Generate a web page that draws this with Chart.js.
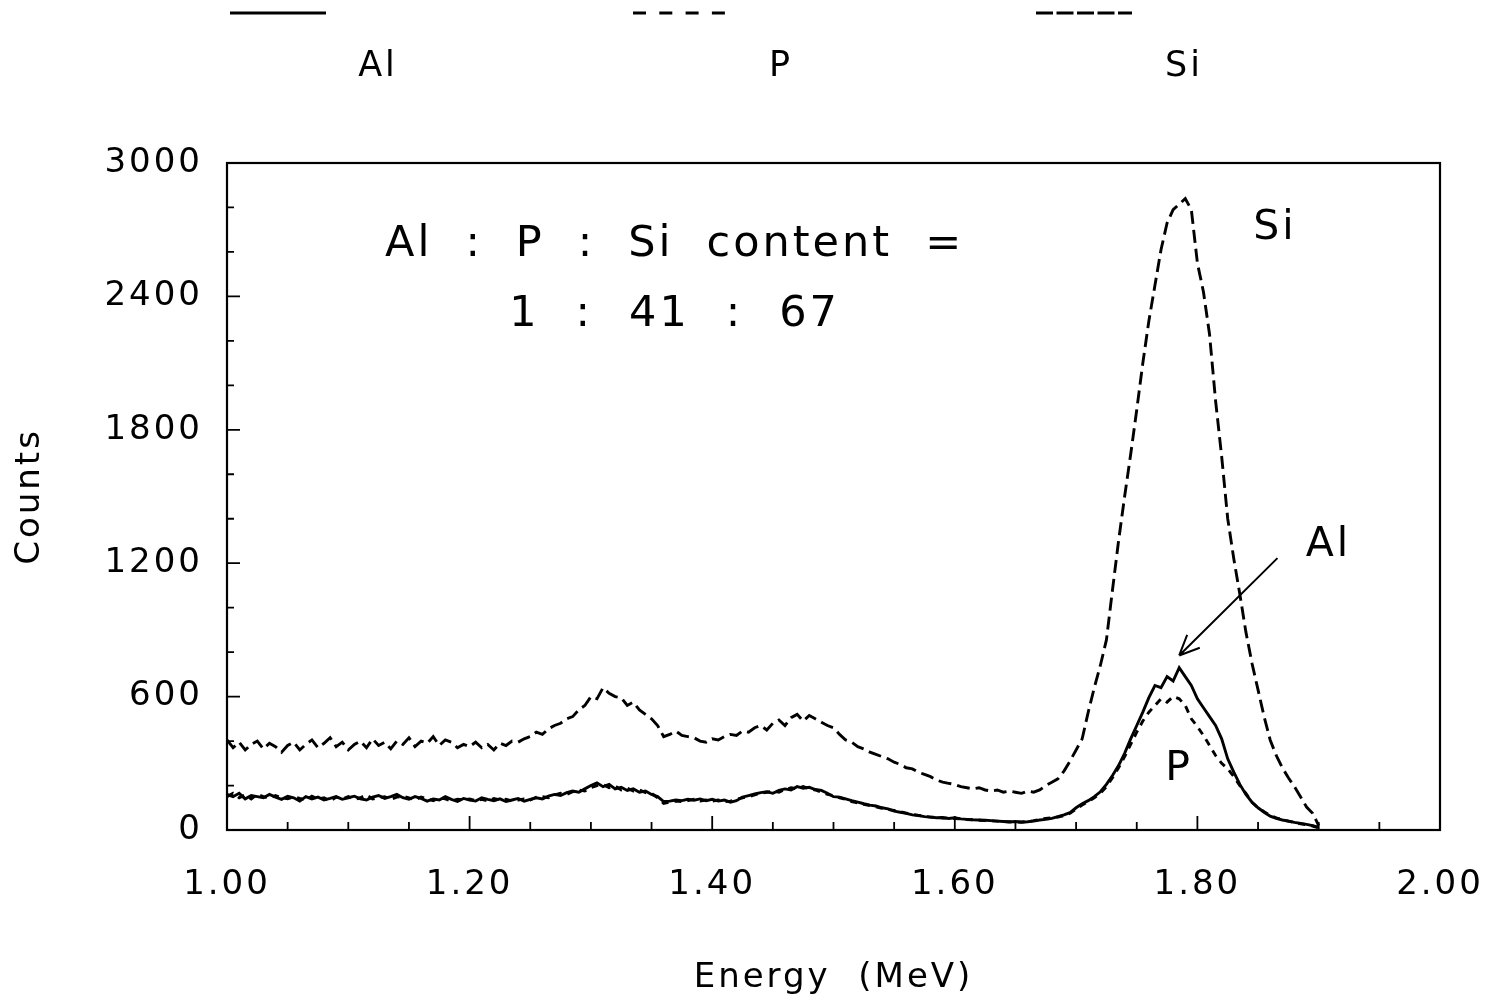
<!DOCTYPE html>
<html>
<head>
<meta charset="utf-8">
<script src="https://cdn.jsdelivr.net/npm/chart.js@4.4.1/dist/chart.umd.min.js"></script>
<style>
  html, body { margin: 0; padding: 0; background: #fff; }
</style>
</head>
<body>
<canvas id="spectrum" width="1489" height="1002"></canvas>
<script>
// channel calibration: first channel energy and channel width (MeV)
const E_START = 1.0;
const E_STEP = 0.005;

const seriesNames = ['Al', 'P', 'Si'];

// counts per channel (1.000 ... 1.900 MeV)
const alCounts = [
  160, 150, 165, 140, 155, 150, 145, 160, 148, 138,
  152, 145, 130, 150, 140, 148, 135, 142, 150, 138,
  145, 152, 140, 135, 148, 155, 142, 150, 160, 145,
  138, 150, 142, 130, 140, 135, 150, 138, 128, 142,
  135, 130, 145, 138, 132, 140, 128, 135, 142, 130,
  138, 145, 140, 152, 160, 155, 168, 175, 170, 185,
  200, 212, 195, 205, 185, 192, 178, 185, 170, 175,
  160, 150, 128, 130, 135, 132, 138, 134, 140, 132,
  138, 130, 135, 125, 132, 148, 155, 162, 168, 172,
  165, 178, 185, 180, 195, 188, 192, 182, 178, 165,
  150, 148, 140, 132, 125, 118, 112, 108, 100, 95,
  85, 80, 75, 68, 65, 60, 58, 55, 56, 52,
  55, 50, 48, 46, 45, 44, 42, 40, 38, 36,
  38, 35, 37, 40, 45, 48, 52, 60, 68, 78,
  100, 118, 132, 150, 172, 205, 245, 290, 345, 410,
  470, 530, 595, 650, 640, 690, 670, 730, 690, 650,
  590, 550, 510, 470, 410, 320, 260, 205, 160, 125,
  100, 80, 62, 52, 45, 40, 34, 30, 25, 20,
  12
];

const pCounts = [
  150, 165, 145, 158, 140, 160, 150, 142, 155, 145,
  140, 150, 142, 135, 152, 140, 145, 130, 148, 140,
  150, 138, 145, 158, 140, 145, 150, 138, 148, 152,
  145, 135, 148, 140, 132, 145, 140, 130, 138, 135,
  140, 132, 138, 130, 142, 135, 138, 130, 135, 140,
  135, 148, 150, 145, 158, 165, 160, 172, 180, 175,
  190, 200, 205, 190, 198, 180, 188, 175, 180, 168,
  165, 145, 120, 125, 130, 128, 132, 138, 130, 135,
  130, 135, 128, 130, 138, 145, 150, 158, 165, 170,
  175, 170, 182, 190, 185, 195, 185, 180, 170, 160,
  155, 145, 138, 128, 122, 115, 110, 104, 98, 92,
  88, 82, 76, 70, 66, 62, 58, 57, 54, 53,
  52, 50, 47, 46, 44, 42, 41, 40, 38, 37,
  36, 36, 38, 42, 48, 52, 55, 58, 65, 75,
  95, 112, 128, 145, 165, 195, 235, 280, 330, 385,
  440, 490, 530, 560, 590, 575, 600, 590, 560, 500,
  465, 425, 380, 335, 300, 275, 240, 200, 165, 125,
  100, 82, 66, 55, 46, 40, 34, 28, 24, 18,
  10
];

const siCounts = [
  405, 370, 395, 360, 385, 400, 365, 390, 375, 350,
  380, 395, 360, 385, 405, 370, 390, 415, 375, 395,
  360, 385, 400, 370, 410, 380, 395, 365, 400, 385,
  415, 375, 400, 390, 420, 380, 405, 395, 370, 385,
  375, 395, 370, 385, 360, 390, 380, 400, 395, 410,
  420, 440, 430, 455, 470, 480, 500, 510, 540, 560,
  600, 590, 640, 615, 600, 595, 560, 575, 540, 520,
  500, 470, 420, 430, 445, 425, 420, 415, 400, 395,
  410, 405, 420, 430, 425, 445, 440, 460, 470, 450,
  480, 495, 470, 505, 520, 490, 515, 500, 485, 470,
  460, 430, 405, 395, 375, 365, 350, 340, 330, 320,
  305, 295, 280, 275, 260, 250, 240, 225, 215, 210,
  205, 195, 190, 185, 190, 180, 175, 180, 170, 175,
  170, 165, 175, 170, 180, 200, 215, 230, 265, 310,
  360, 410, 530, 640, 740, 855, 1080, 1300, 1500, 1690,
  1890, 2100, 2290, 2450, 2610, 2730, 2790, 2815, 2840, 2790,
  2550, 2420, 2230, 1930, 1680, 1400, 1220, 1060, 890, 750,
  630, 510, 405, 335, 280, 235, 195, 150, 103, 75,
  20
];

const xTickStep = 0.2;
const yTickStep = 600;

// text placed in data coordinates [energy, counts]
const ratioLine1 = ['Al', ':', 'P', ':', 'Si', 'content', '='];
const ratioLine2 = ['1', ':', '41', ':', '67'];
const ratioAnchor1 = [1.369, 2630];
const ratioAnchor2 = [1.369, 2316];
const peakLabels = [
  { text: 'Si', at: [1.864, 2705] },
  { text: 'Al', at: [1.908, 1280] },
  { text: 'P', at: [1.785, 275] }
];
const arrowFrom = [1.866, 1223];
const arrowTo = [1.785, 785];

const FONT = "'DejaVu Sans', sans-serif";
const SPACING = '3px';

function toPoints(counts) {
  return counts.map((c, i) => ({ x: +(E_START + i * E_STEP).toFixed(3), y: c }));
}

const dashes = { Al: [], P: [7, 6], Si: [13, 6] };
const legendDashes = { Al: [], P: [13, 13.3], Si: [17, 3.5] };

const framePlugin = {
  id: 'frame',
  afterInit(chart) {
    chart.ctx.letterSpacing = SPACING;
  },
  beforeDraw(chart) {
    chart.ctx.letterSpacing = SPACING;
  },
  afterDatasetsDraw(chart) {
    const { ctx, chartArea: a, scales: { x, y } } = chart;
    ctx.save();
    ctx.strokeStyle = '#000';
    ctx.lineWidth = 2.2;
    ctx.strokeRect(a.left, a.top, a.right - a.left, a.bottom - a.top);

    // inward tick marks
    ctx.lineWidth = 1.8;
    ctx.beginPath();
    for (let i = 0; i <= 20; i++) {
      const px = x.getPixelForValue(1 + i * 0.05);
      const len = i % 4 === 0 ? 14 : 8;
      ctx.moveTo(px, a.bottom);
      ctx.lineTo(px, a.bottom - len);
    }
    for (let i = 0; i <= 15; i++) {
      const py = y.getPixelForValue(i * 200);
      const len = i % 3 === 0 ? 13 : 7;
      ctx.moveTo(a.left, py);
      ctx.lineTo(a.left + len, py);
    }
    ctx.stroke();

    // annotations
    ctx.fillStyle = '#000';
    ctx.textBaseline = 'middle';
    const drawTokens = (tokens, anchor, size, gap) => {
      ctx.font = size + 'px ' + FONT;
      const widths = tokens.map(t => ctx.measureText(t).width);
      const total = widths.reduce((s, w) => s + w, 0) + gap * (tokens.length - 1);
      let cx = x.getPixelForValue(anchor[0]) - total / 2;
      const cy = y.getPixelForValue(anchor[1]);
      ctx.textAlign = 'left';
      tokens.forEach((t, i) => { ctx.fillText(t, cx, cy); cx += widths[i] + gap; });
    };
    drawTokens(ratioLine1, ratioAnchor1, 43, 33);
    drawTokens(ratioLine2, ratioAnchor2, 43, 36);

    ctx.font = '41px ' + FONT;
    ctx.textAlign = 'center';
    peakLabels.forEach(l => {
      ctx.fillText(l.text, x.getPixelForValue(l.at[0]), y.getPixelForValue(l.at[1]));
    });

    // arrow to Al peak
    const x0 = x.getPixelForValue(arrowFrom[0]), y0 = y.getPixelForValue(arrowFrom[1]);
    const x1 = x.getPixelForValue(arrowTo[0]), y1 = y.getPixelForValue(arrowTo[1]);
    const ang = Math.atan2(y1 - y0, x1 - x0);
    ctx.lineWidth = 2;
    ctx.beginPath();
    ctx.moveTo(x0, y0);
    ctx.lineTo(x1, y1);
    for (const d of [0.42, -0.42]) {
      ctx.moveTo(x1, y1);
      ctx.lineTo(x1 - 22 * Math.cos(ang + d), y1 - 22 * Math.sin(ang + d));
    }
    ctx.stroke();
    ctx.restore();
  },
  afterDraw(chart) {
    // legend row across the top
    const { ctx } = chart;
    ctx.save();
    ctx.strokeStyle = '#000';
    ctx.fillStyle = '#000';
    ctx.lineWidth = 3;
    ctx.font = '35px ' + FONT;
    ctx.textAlign = 'center';
    ctx.textBaseline = 'middle';
    chart.data.datasets.forEach((ds, i) => {
      const x0 = 230 + i * 403;
      ctx.setLineDash(legendDashes[ds.label]);
      ctx.beginPath();
      ctx.moveTo(x0, 13);
      ctx.lineTo(x0 + 96, 13);
      ctx.stroke();
      ctx.setLineDash([]);
      ctx.fillText(ds.label, x0 + 148, 67);
    });
    ctx.restore();
  }
};

const datasets = [alCounts, pCounts, siCounts].map((counts, i) => ({
  label: seriesNames[i],
  data: toPoints(counts),
  borderColor: '#000',
  borderWidth: 2.9,
  borderDash: dashes[seriesNames[i]],
  pointRadius: 0,
  tension: 0,
  fill: false
}));

new Chart(document.getElementById('spectrum'), {
  type: 'line',
  data: { datasets },
  options: {
    responsive: false,
    animation: false,
    devicePixelRatio: 1,
    layout: { padding: { left: 0, top: 163, right: 49, bottom: 0 } },
    plugins: {
      legend: { display: false },
      tooltip: { enabled: false }
    },
    scales: {
      x: {
        type: 'linear',
        min: 1,
        max: 2,
        afterFit(s) { s.height = 172; s.paddingLeft = 0; s.paddingRight = 0; },
        grid: { display: false, drawTicks: false },
        border: { display: false },
        ticks: {
          stepSize: xTickStep,
          color: '#000',
          padding: 35,
          maxRotation: 0,
          font: { family: FONT, size: 34 },
          callback: v => v.toFixed(2)
        },
        title: {
          display: true,
          text: 'Energy  (MeV)',
          color: '#000',
          font: { family: FONT, size: 34 },
          padding: { top: 0, bottom: 3 }
        }
      },
      y: {
        min: 0,
        max: 3000,
        afterFit(s) { s.width = 227; s.paddingTop = 0; s.paddingBottom = 0; },
        grid: { display: false, drawTicks: false },
        border: { display: false },
        ticks: {
          stepSize: yTickStep,
          color: '#000',
          padding: 24,
          font: { family: FONT, size: 34 },
          callback: v => String(v)
        },
        title: {
          display: true,
          text: 'Counts',
          color: '#000',
          font: { family: FONT, size: 34 },
          padding: { top: 10, bottom: 0 }
        }
      }
    }
  },
  plugins: [framePlugin]
});
</script>
</body>
</html>
